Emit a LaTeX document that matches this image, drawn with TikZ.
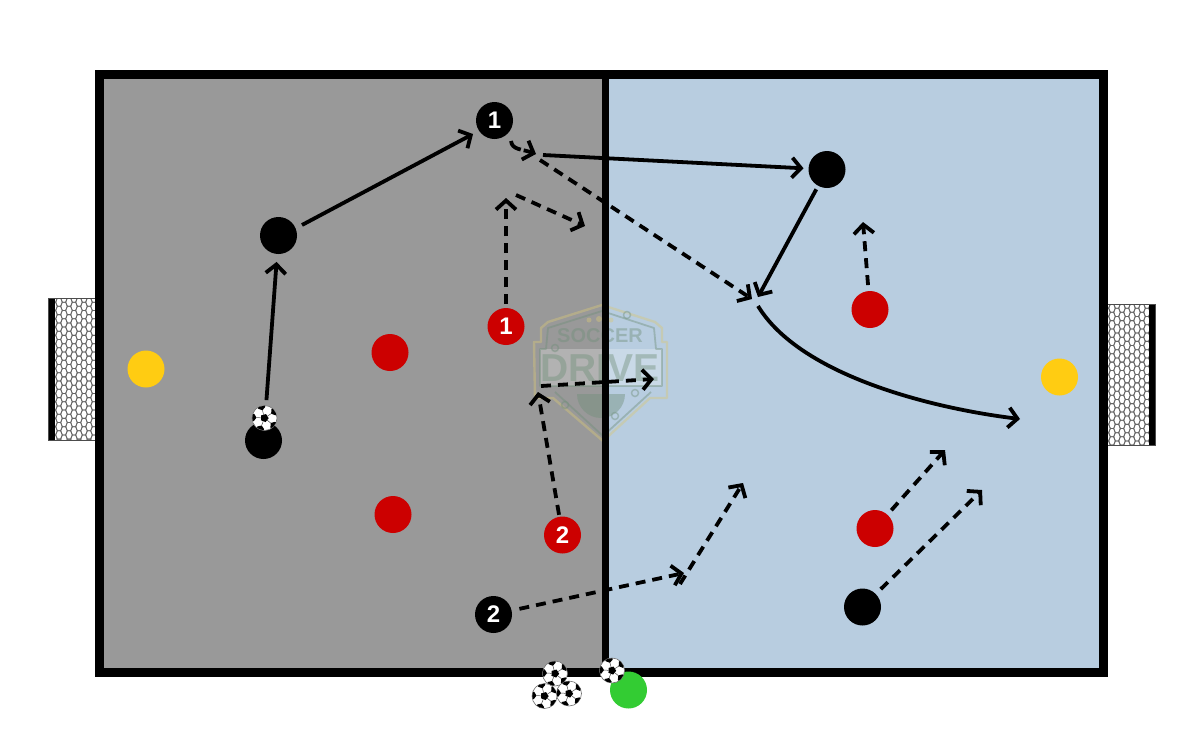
\documentclass[tikz,border=0pt]{standalone}
\usepackage{fontspec}
\setmainfont{Liberation Sans}
\usetikzlibrary{arrows.meta}
\definecolor{fieldgrey}{HTML}{999999}
\definecolor{fieldblue}{HTML}{B8CDE0}
\definecolor{pred}{HTML}{CC0000}
\definecolor{pyellow}{HTML}{FFCC12}
\definecolor{pgreen}{HTML}{33CC33}
\definecolor{logoy}{HTML}{D8C878}
\definecolor{logog}{HTML}{6F8F78}
\tikzset{
  x=1pt,y=-1pt,
  player/.style={circle,minimum size=#1,inner sep=0pt,outer sep=0pt,text=white,font=\bfseries\fontsize{24}{24}\selectfont},
  player/.default=37pt,
  blackp/.style={player,fill=black},
  redp/.style={player,fill=pred},
  yellowp/.style={player,fill=pyellow},
  greenp/.style={player,fill=pgreen},
  runline/.style={line width=3.8pt,-{Straight Barb[length=9pt,width=20pt,line width=3.8pt]}},
  dashrun/.style={runline,dash pattern=on 10pt off 7pt},
  netline/.style={draw=black!60,line width=0.8pt},
  logotext/.style={inner sep=0pt,outer sep=0pt,text opacity=.42},
  ball/.pic={
    \fill[white] (0,0) circle[radius=12.5pt];
    \draw[black!55,line width=.6pt] (0,0) circle[radius=12.5pt];
    \begin{scope}
      \clip (0,0) circle[radius=12.3pt];
      \fill[black,rotate=15] (90:4.2) -- (162:4.2) -- (234:4.2) -- (306:4.2) -- (18:4.2) -- cycle;
      \foreach \a in {0,72,144,216,288}{
        \fill[black,rotate=\a+33] (10.5,-3.6) -- (8,0) -- (10.5,3.6) -- (15,4) -- (15,-4) -- cycle;
        \draw[black!70,line width=.5pt,rotate=\a+33] (3.5,0) -- (8,0);
      }
    \end{scope}
  }
}
\newcommand{\hexnet}[4]{%
  \begin{scope}
    \clip (#1,#2) rectangle (#3,#4);
    \foreach \c in {0,...,10}{
      \foreach \r in {0,...,18}{
        \pgfmathsetmacro{\cx}{#1+\c*5}
        \pgfmathsetmacro{\cy}{#2+\r*8.3+mod(\c,2)*4.15}
        \draw[netline,line join=round] (\cx-3.3,\cy) -- (\cx-1.7,\cy-4.15) -- (\cx+1.7,\cy-4.15) -- (\cx+3.3,\cy) -- (\cx+1.7,\cy+4.15) -- (\cx-1.7,\cy+4.15) -- cycle;
      }
    }
  \end{scope}
}
\begin{document}
\begin{tikzpicture}
\useasboundingbox (0,0) rectangle (1200,750);
\fill[white] (0,0) rectangle (1200,750);
% goals
\fill[white] (48,298) rectangle (98,440);
\hexnet{54}{298}{97}{440}
\fill[black] (48,298) rectangle (54.5,440);
\draw[black!70,line width=.8pt] (48,298) rectangle (97,440);
\fill[white] (1107,304) rectangle (1155,445);
\hexnet{1107}{304}{1149}{445}
\fill[black] (1149,304) rectangle (1155,445);
\draw[black!70,line width=.8pt] (1107,304) rectangle (1155,445);
% field
\fill[fieldgrey] (100,75) rectangle (605,672);
\fill[fieldblue] (605,75) rectangle (1104,672);
% logo
\begin{scope}[opacity=.42]
  \fill[white,opacity=.25] (540,349) rectangle (662,386);
  \draw[logoy,line width=2.4pt,line join=round] (602,305) -- (655,322) -- (662,328) -- (662,342) -- (667,342) -- (667,398) -- (650,398) -- (603,441) -- (553,398) -- (535,398) -- (534,342) -- (541,342) -- (541,328) -- (548,322) -- cycle;
  \draw[logog,line width=1.8pt,line join=round] (602,311) -- (654,328) -- (656,349) -- (662,349) -- (662,386) -- (540,386) -- (540,349) -- (546,349) -- (548,328) -- cycle;
  \draw[logog,line width=1.8pt] (555,392) -- (603,436) -- (651,392);
  \fill[logog] (577,394) -- (625,394) arc[start angle=0,delta angle=-180,radius=24pt] -- cycle;
  \fill[logoy] (589,320) circle[radius=2.5pt] (599,319) circle[radius=3pt] (611,320) circle[radius=2.5pt];
  \draw[logog,line width=1.5pt,fill=fieldgrey] (555,348) circle[radius=3.5pt] (565,405) circle[radius=3.5pt];
  \draw[logog,line width=1.5pt,fill=fieldblue] (627,315) circle[radius=3.5pt] (635,393) circle[radius=3.5pt] (615,416) circle[radius=3.5pt];
\end{scope}
\node[logotext,text=logog,font=\bfseries\fontsize{20}{20}\selectfont] (logoa) at (600,336) {SOCCER};
\node[logotext,text=logog,font=\bfseries\fontsize{39}{39}\selectfont] (logob) at (600,368) {DRIVE};
% lines
\draw[line width=7.6pt] (605.5,75) -- (605.5,672);
\draw[line width=9.5pt] (99.5,74.5) rectangle (1103.5,672.5);
% players
\node[blackp] (k1) at (263.5,440.5) {};
\node[blackp] (k2) at (278.5,235.5) {};
\node[blackp] (k3) at (494.5,120.5) {1};
\node[blackp] (k4) at (827,169.5) {};
\node[blackp] (k5) at (493.5,614.5) {2};
\node[blackp] (k6) at (862.5,607) {};
\node[redp] (r1) at (390,352.5) {};
\node[redp] (r2) at (393,514.5) {};
\node[redp] (r3) at (506,326.5) {1};
\node[redp] (r4) at (562.5,535) {2};
\node[redp] (r5) at (870,309.5) {};
\node[redp] (r6) at (875,528.5) {};
\node[yellowp] (y1) at (146,369) {};
\node[yellowp] (y2) at (1059.5,377) {};
\node[greenp] (g1) at (628.5,690) {};
% free ends
\coordinate (a0) at (302,225);
\coordinate (a00) at (473,134);
\coordinate (a1) at (511,141);
\coordinate (a2) at (536,154);
\coordinate (a3) at (543,155);
\coordinate (a4) at (540,160);
\coordinate (a5) at (752,299);
\coordinate (a6) at (758,297);
\coordinate (a7) at (758,306);
\coordinate (a8) at (1020,419);
\coordinate (a9) at (506,198);
\coordinate (a10) at (516,195);
\coordinate (a11) at (585,226);
\coordinate (a12) at (863,222);
\coordinate (a13) at (538,392);
\coordinate (a14) at (541,386);
\coordinate (a15) at (654,379);
\coordinate (a16) at (684,573);
\coordinate (a17) at (680,584);
\coordinate (a18) at (743,483);
\coordinate (a19) at (945,450);
\coordinate (a20) at (982,490);
% connectors
\draw[runline,shorten <=22pt,shorten >=8pt] (k1) -- (k2);
\draw[runline] (a0) -- (a00);
\draw[runline,shorten >=5pt] (a3) -- (k4);
\draw[runline,shorten <=4pt] (k4) -- (a6);
\draw[runline] (a7) .. controls (800,375) and (930,408) .. (a8);
\draw[dashrun,dash pattern=on 14pt off 3pt] (a1) .. controls (512,150) and (522,149) .. (a2);
\draw[dashrun] (a4) -- (a5);
\draw[dashrun,shorten <=4pt] (r3) -- (a9);
\draw[dashrun] (a10) -- (a11);
\draw[dashrun,shorten <=6pt] (r5) -- (a12);
\draw[dashrun,shorten <=2pt] (r4) -- (a13);
\draw[dashrun] (a14) -- (a15);
\draw[dashrun,shorten <=8pt] (k5) -- (a16);
\draw[dashrun] (a17) -- (a18);
\draw[dashrun,shorten <=6pt] (r6) -- (a19);
\draw[dashrun,shorten <=7pt] (k6) -- (a20);
% balls
\pic (b1) at (264.5,418) {ball};
\pic (b2) at (555,673.5) {ball};
\pic (b3) at (544.5,696) {ball};
\pic (b4) at (569,693.5) {ball};
\pic (b5) at (612,670.5) {ball};
\end{tikzpicture}
\end{document}
